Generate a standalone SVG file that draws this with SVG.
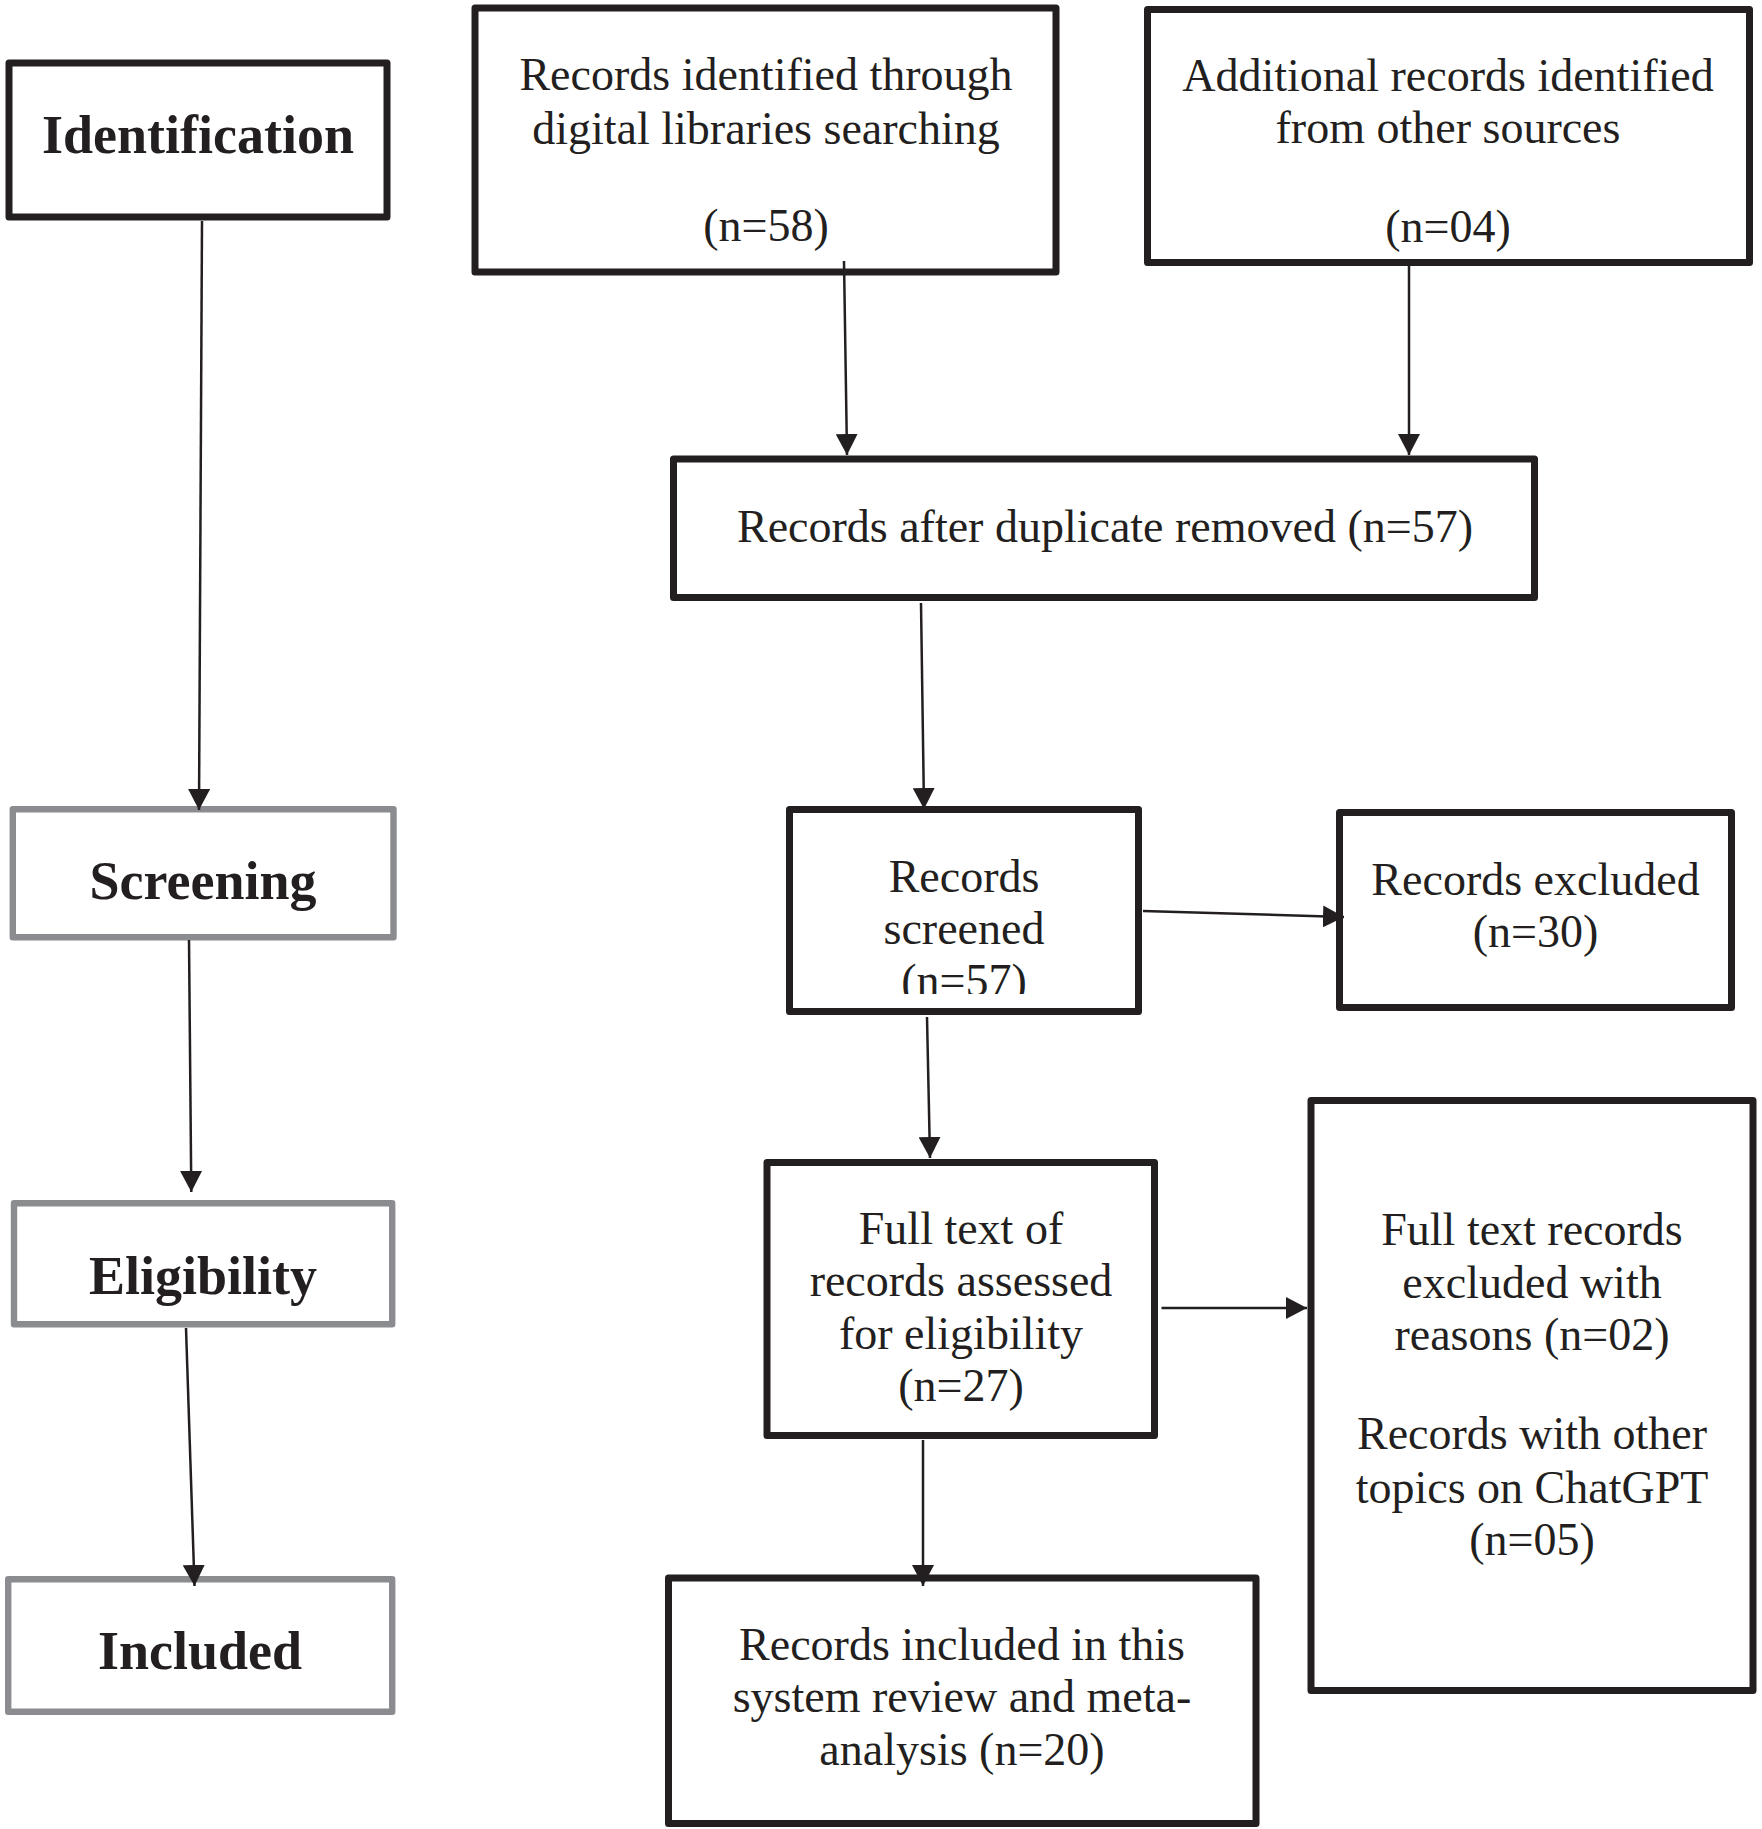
<svg xmlns="http://www.w3.org/2000/svg" width="1762" height="1829" viewBox="0 0 1762 1829">
<style>
.box{fill:#fff;stroke:#231f20;stroke-width:7;stroke-linejoin:round}
.gbox{fill:#fff;stroke:#8b8c8f;stroke-width:6.4;stroke-linejoin:round}
.t{font-family:"Liberation Serif","Times New Roman",serif;font-size:46px;fill:#231f20;text-anchor:middle}
.b{font-family:"Liberation Serif","Times New Roman",serif;font-size:54px;font-weight:bold;fill:#231f20;text-anchor:middle}
.c{stroke:#231f20;stroke-width:2.5;fill:none;marker-end:url(#ah)}
</style>
<defs>
<marker id="ah" markerUnits="userSpaceOnUse" markerWidth="22" markerHeight="22" refX="21" refY="11" orient="auto">
<path d="M0,0 L21,11 L0,22 Z" fill="#231f20"/>
</marker>
<clipPath id="clipScr"><rect x="790" y="810" width="348" height="184"/></clipPath>
</defs>
<rect width="1762" height="1829" fill="#fff"/>

<g id="identification">
<rect class="box" x="9" y="63" width="378" height="154"/>
<text class="b" x="198" y="153">Identification</text>
</g>
<g id="screening">
<rect class="gbox" x="12.8" y="809.2" width="380.7" height="128"/>
<text class="b" x="203" y="899">Screening</text>
</g>
<g id="eligibility">
<rect class="gbox" x="14" y="1203.2" width="378.2" height="121"/>
<text class="b" x="203" y="1294">Eligibility</text>
</g>
<g id="included">
<rect class="gbox" x="8.2" y="1579.2" width="384" height="132.6"/>
<text class="b" x="200" y="1669">Included</text>
</g>

<g id="records-identified">
<rect class="box" x="475" y="8" width="581" height="264"/>
<text class="t" x="766" y="90">Records identified through</text>
<text class="t" x="766" y="143.5">digital libraries searching</text>
<text class="t" x="766" y="241">(n=58)</text>
</g>
<g id="additional-records">
<rect class="box" x="1147.5" y="9.5" width="602" height="253"/>
<text class="t" x="1448" y="91">Additional records identified</text>
<text class="t" x="1448" y="143">from other sources</text>
<text class="t" x="1448" y="242">(n=04)</text>
</g>
<g id="after-duplicates">
<rect class="box" x="673.5" y="459" width="861" height="138.5"/>
<text class="t" x="1105" y="542">Records after duplicate removed (n=57)</text>
</g>
<g id="records-screened">
<rect class="box" x="789.5" y="809.5" width="349" height="202"/>
<g clip-path="url(#clipScr)">
<text class="t" x="964" y="892">Records</text>
<text class="t" x="964" y="943.5">screened</text>
<text class="t" x="964" y="996">(n=57)</text>
</g>
</g>
<g id="records-excluded">
<rect class="box" x="1339.5" y="812.5" width="392" height="195"/>
<text class="t" x="1535.5" y="895">Records excluded</text>
<text class="t" x="1535.5" y="947">(n=30)</text>
</g>
<g id="full-text-assessed">
<rect class="box" x="767" y="1162.5" width="387.5" height="273"/>
<text class="t" x="961" y="1244">Full text of</text>
<text class="t" x="961" y="1296">records assessed</text>
<text class="t" x="961" y="1349">for eligibility</text>
<text class="t" x="961" y="1401">(n=27)</text>
</g>
<g id="full-text-excluded">
<rect class="box" x="1311" y="1100.5" width="442" height="590"/>
<text class="t" x="1532" y="1245">Full text records</text>
<text class="t" x="1532" y="1297.7">excluded with</text>
<text class="t" x="1532" y="1350">reasons (n=02)</text>
<text class="t" x="1532" y="1449">Records with other</text>
<text class="t" x="1532" y="1503">topics on ChatGPT</text>
<text class="t" x="1532" y="1555">(n=05)</text>
</g>
<g id="records-included">
<rect class="box" x="668.5" y="1578" width="587.5" height="245.5"/>
<text class="t" x="962" y="1660">Records included in this</text>
<text class="t" x="962" y="1712">system review and meta-</text>
<text class="t" x="962" y="1765">analysis (n=20)</text>
</g>

<g id="connectors">
<line class="c" x1="202" y1="221" x2="199" y2="810"/>
<line class="c" x1="189" y1="940" x2="191.3" y2="1192"/>
<line class="c" x1="186" y1="1328" x2="194.5" y2="1586"/>
<line class="c" x1="844" y1="261" x2="847" y2="455"/>
<line class="c" x1="1409" y1="259" x2="1409" y2="455"/>
<line class="c" x1="921" y1="603" x2="924" y2="809"/>
<line class="c" x1="1143" y1="911" x2="1344" y2="917"/>
<line class="c" x1="927" y1="1017" x2="930" y2="1158"/>
<line class="c" x1="1161.5" y1="1308" x2="1307" y2="1308"/>
<line class="c" x1="923" y1="1440" x2="923" y2="1586"/>
</g>
</svg>
